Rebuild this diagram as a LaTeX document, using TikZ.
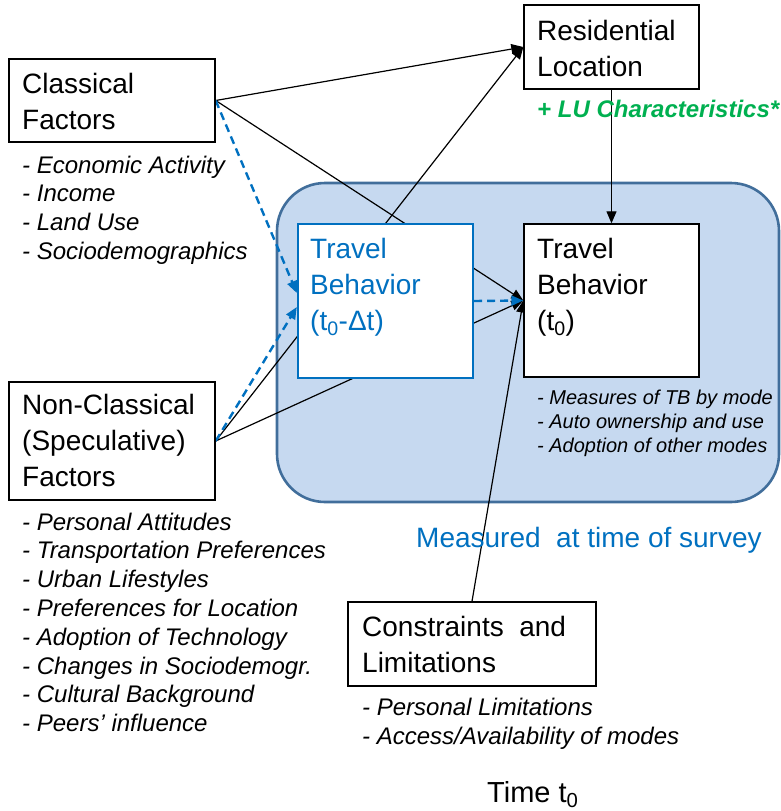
\documentclass[tikz,border=0pt]{standalone}
\usepackage{fontspec}
\setmainfont{Liberation Sans}
\usetikzlibrary{arrows.meta,calc}
\definecolor{tbblue}{RGB}{0,112,192}
\definecolor{regionfill}{RGB}{198,217,240}
\definecolor{regionedge}{RGB}{65,110,155}
\definecolor{lugreen}{RGB}{0,176,80}
\pgfdeclarelayer{bg}
\pgfdeclarelayer{edges}
\pgfsetlayers{bg,edges,main}
\begin{document}
\begin{tikzpicture}[x=1pt,y=-1pt,
  box/.style={draw=black, line width=1.4pt, fill=white, inner sep=0pt, rectangle},
  bluebox/.style={box, draw=tbblue, line width=2.4pt},
  region/.style={draw=regionedge, fill=regionfill, line width=2.6pt, rounded corners=48pt, inner sep=0pt, rectangle},
  txt/.style={anchor=base west, inner sep=0pt, align=left},
  bigtxt/.style={txt, font=\fontsize{28}{36}\selectfont},
  listtxt/.style={txt, font=\fontsize{24}{28.8}\selectfont\itshape},
  smalllist/.style={txt, font=\fontsize{20}{24}\selectfont\itshape},
  conn/.style={draw=black, line width=1.2pt, -{Triangle[length=12pt,width=10pt]}},
  dconn/.style={draw=tbblue, line width=2.4pt, dash pattern=on 8pt off 5pt, -{Triangle[length=12pt,width=10pt]}},
]
\useasboundingbox (0,0) rectangle (781,811);

% big region
\begin{pgfonlayer}{bg}
\node[region, minimum width=502pt, minimum height=319pt] (survey) at (528,342.5) {};
\end{pgfonlayer}

% boxes
\node[box, minimum width=206pt, minimum height=83pt] (cf) at (112,100.5) {};
\node[box, minimum width=175pt, minimum height=84pt] (rl) at (611.5,47) {};
\node[bluebox, minimum width=175pt, minimum height=154pt] (tbd) at (385.5,301) {};
\node[box, minimum width=175pt, minimum height=153pt] (tb) at (611.5,300.5) {};
\node[box, minimum width=206pt, minimum height=118pt] (nc) at (112,441) {};
\node[box, minimum width=248pt, minimum height=84pt] (cl) at (472,644) {};

% box texts (anchor = baseline of the last line)
\node[bigtxt] (cf-t) at (22,129) {Classical\\Factors};
\node[bigtxt] (rl-t) at (537,76) {Residential\\Location};
\node[bigtxt, text=tbblue] (tbd-t) at (310,330) {Travel\\Behavior\\(t\textsubscript{0}-Δt)};
\node[bigtxt] (tb-t) at (537,330) {Travel\\Behavior\\(t\textsubscript{0})};
\node[bigtxt] (nc-t) at (22,486) {Non-Classical\\(Speculative)\\Factors};
\node[bigtxt] (cl-t) at (362,672) {Constraints\ \ and\\Limitations};

% other texts
\node[txt, font=\fontsize{24}{28.8}\selectfont\bfseries\itshape, text=lugreen] (lu) at (537,117) {+ LU Characteristics*};
\node[listtxt] (cf-l) at (22,259.4) {- Economic Activity\\- Income\\- Land Use\\- Sociodemographics};
\node[listtxt] (nc-l) at (22,731.6) {- Personal Attitudes\\- Transportation Preferences\\- Urban Lifestyles\\- Preferences for Location\\- Adoption of Technology\\- Changes in Sociodemogr.\\- Cultural Background\\- Peers’ influence};
\node[smalllist] (tb-l) at (537,452) {- Measures of TB by mode\\- Auto ownership and use\\- Adoption of other modes};
\node[listtxt] (cl-l) at (362,744) {- Personal Limitations\\- Access/Availability of modes};
\node[txt, font=\fontsize{28}{34}\selectfont, text=tbblue] (meas) at (416,547) {Measured\ \ at time of survey};
\node[txt, font=\fontsize{29}{34}\selectfont] (time) at (487,802) {Time t\textsubscript{0}};

% connectors
\coordinate (tbdin1) at ($(tbd.west)+(0,-8)$);
\coordinate (tbdin2) at ($(tbd.west)+(0,6)$);
\begin{pgfonlayer}{edges}
\draw[conn] (cf.east) -- (rl.west);
\draw[conn] (cf.east) -- (tb.west);
\draw[conn] (nc.east) -- (rl.west);
\draw[conn] (nc.east) -- (tb.west);
\draw[conn] (cl.north) -- (tb.west);
\draw[conn] (rl.south) -- (tb.north);
\draw[dconn] (cf.east) -- (tbdin1);
\draw[dconn] (nc.east) -- (tbdin2);
\draw[dconn] (tbd.east) -- (tb.west);
\end{pgfonlayer}
\end{tikzpicture}
\end{document}
